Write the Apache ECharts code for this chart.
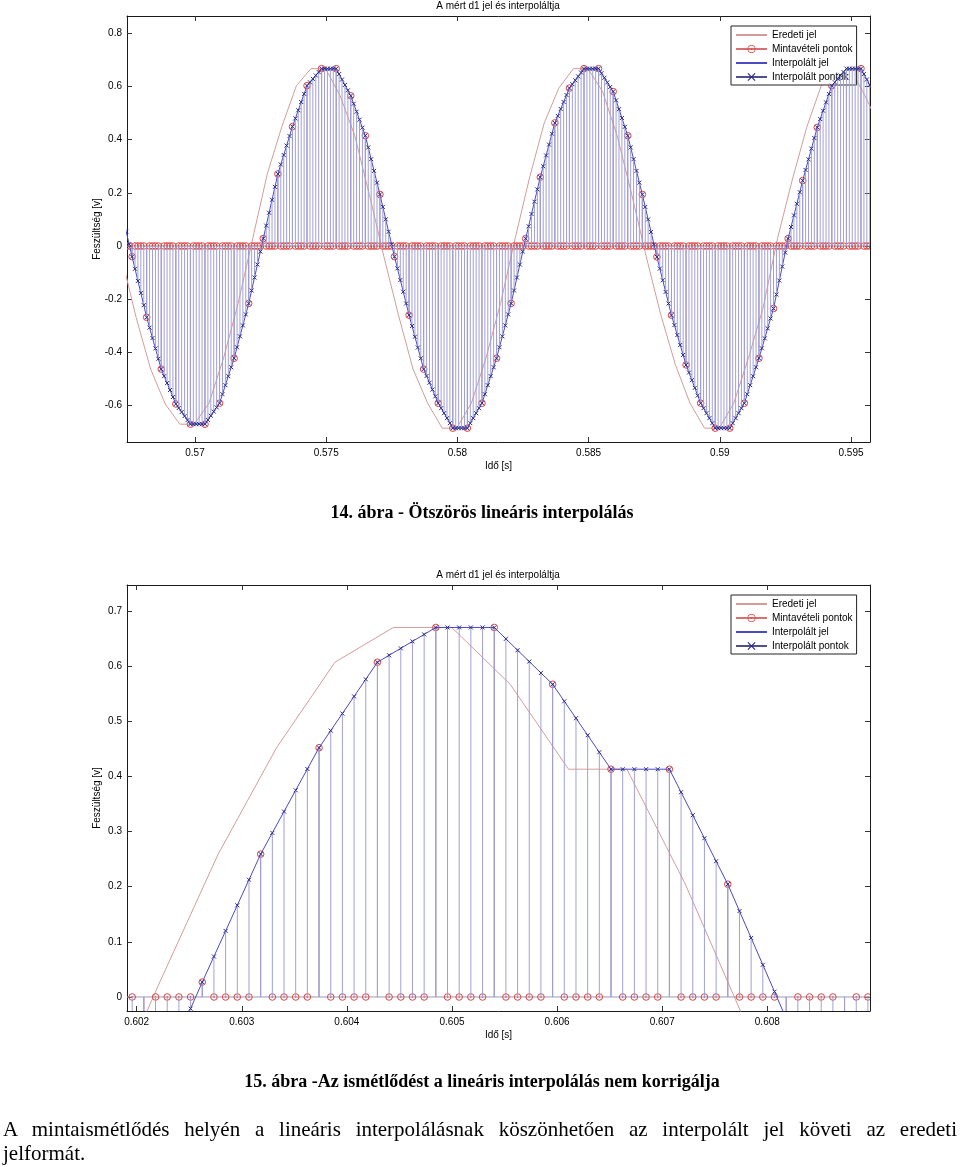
<!DOCTYPE html>
<html>
<head>
<meta charset="utf-8">
<script src="https://cdn.jsdelivr.net/npm/echarts@6/dist/echarts.min.js"></script>
<style>
html,body{margin:0;padding:0;background:#fff;}
#chart{position:absolute;left:0;top:0;width:960px;height:1167px;}
.cap{position:absolute;left:0;width:964px;text-align:center;font-family:"Liberation Serif","Times New Roman",serif;font-weight:bold;font-size:18px;line-height:22px;color:#000;white-space:nowrap;}
.para{position:absolute;left:3px;width:954px;font-family:"Liberation Serif","Times New Roman",serif;font-size:21px;line-height:24px;color:#000;white-space:nowrap;}
#p1{top:1117px;text-align:justify;text-align-last:justify;white-space:normal;}
#p2{top:1141px;}
</style>
</head>
<body>
<div id="chart"></div>
<div class="cap" style="top:501px">14. ábra - Ötszörös lineáris interpolálás</div>
<div class="cap" style="top:1070px">15. ábra -Az ismétlődést a lineáris interpolálás nem korrigálja</div>
<div class="para" id="p1">A mintaismétlődés helyén a lineáris interpolálásnak köszönhetően az interpolált jel követi az eredeti</div>
<div class="para" id="p2">jelformát.</div>
<script>
// ---------------- DATA ----------------
const SAMPLE_RATE = 1800;          // Hz, sampled signal
const UPSAMPLE = 5;                // fivefold interpolation
const ORIGINAL_DELAY = 0.000404;   // s, original signal leads the interpolated one

const chartTitle = 'A mért d1 jel és interpoláltja';
const xName = 'Idő [s]';
const yName = 'Feszültség [v]';
const legendNames = ['Eredeti jel', 'Mintavételi pontok', 'Interpolált jel', 'Interpolált pontok'];

// Figure 14
const c1FirstSampleTime = 0.5670474;
const c1Samples = [
  0.194, -0.040, -0.268, -0.463, -0.594, -0.670, -0.670, -0.591, -0.422, -0.216,
  0.028, 0.271, 0.449, 0.603, 0.667, 0.667, 0.565, 0.415, 0.194, -0.040,
  -0.260, -0.463, -0.591, -0.685, -0.685, -0.591, -0.422, -0.216,
  0.028, 0.259, 0.463, 0.594, 0.667, 0.667, 0.581, 0.415, 0.194, -0.041,
  -0.260, -0.447, -0.591, -0.685, -0.685, -0.591, -0.422, -0.235,
  0.028, 0.246, 0.446, 0.603, 0.667, 0.667, 0.565, 0.450
];
const c1XRange = [0.567409, 0.595724];
const c1YRange = [-0.737, 0.865];
const c1XTicks = [0.57, 0.575, 0.58, 0.585, 0.59, 0.595];
const c1XTickLabels = ['0.57', '0.575', '0.58', '0.585', '0.59', '0.595'];
const c1YTicks = [-0.6, -0.4, -0.2, 0, 0.2, 0.4, 0.6, 0.8];
const c1YTickLabels = ['-0.6', '-0.4', '-0.2', '0', '0.2', '0.4', '0.6', '0.8'];

// Figure 15
const c2FirstSampleTime = 0.6015129;
const c2Samples = [
  -0.420, -0.213, 0.027, 0.259, 0.452, 0.607, 0.670, 0.670, 0.567,
  0.413, 0.413, 0.2045, -0.039, -0.270, -0.460
];
const c2XRange = [0.601908, 0.608977];
const c2YRange = [-0.0254, 0.747];
const c2XTicks = [0.602, 0.603, 0.604, 0.605, 0.606, 0.607, 0.608];
const c2XTickLabels = ['0.602', '0.603', '0.604', '0.605', '0.606', '0.607', '0.608'];
const c2YTicks = [0, 0.1, 0.2, 0.3, 0.4, 0.5, 0.6, 0.7];
const c2YTickLabels = ['0', '0.1', '0.2', '0.3', '0.4', '0.5', '0.6', '0.7'];

// ---------------- DERIVED (the chart's own processing) ----------------
function derive(samples, t0) {
  const T = 1 / SAMPLE_RATE;
  const original = samples.map((v, i) => [t0 + i * T - ORIGINAL_DELAY, v]);
  const stuffed = [];   // zero-inserted sample sequence
  const interp = [];    // linear interpolation
  for (let i = 0; i < samples.length - 1; i++) {
    for (let j = 0; j < UPSAMPLE; j++) {
      const t = t0 + (i + j / UPSAMPLE) * T;
      stuffed.push([t, j === 0 ? samples[i] : 0]);
      interp.push([t, samples[i] + (j / UPSAMPLE) * (samples[i + 1] - samples[i])]);
    }
  }
  const tl = t0 + (samples.length - 1) * T;
  stuffed.push([tl, samples[samples.length - 1]]);
  interp.push([tl, samples[samples.length - 1]]);
  return { original, stuffed, interp };
}
const d1 = derive(c1Samples, c1FirstSampleTime);
const d2 = derive(c2Samples, c2FirstSampleTime);

// ---------------- STYLE ----------------
const FONT = '"Liberation Sans", Arial, Helvetica, sans-serif';
const COL_ORIG = '#d39c9c';
const COL_SAMPLE = '#dd4444';
const COL_SAMPLE_STEM = '#8e7ab4';
const COL_STEM = '#a0a0d8';
const COL_ILINE = '#4a4ac4';
const COL_X = '#2a2a8a';
const COL_AXIS = '#1a1a1a';

function labelFor(v, ticks, labels) {
  const i = ticks.findIndex(t => Math.abs(t - v) < 1e-9);
  return i >= 0 ? labels[i] : '';
}

function xAxisCfg(gridIndex, range, ticks, labels, position, main) {
  return {
    type: 'value', gridIndex, position, min: range[0], max: range[1],
    axisLine: { show: true, onZero: false, lineStyle: { color: COL_AXIS, width: 1 } },
    axisTick: { show: true, inside: true, length: 5, customValues: ticks, lineStyle: { color: '#333' } },
    axisLabel: { show: main, customValues: ticks, formatter: v => labelFor(v, ticks, labels),
      margin: 6, fontSize: 10, color: '#000', fontFamily: FONT },
    splitLine: { show: false },
    name: main ? xName : '', nameLocation: 'middle', nameGap: 19, nameMoveOverlap: false,
    nameTextStyle: { fontSize: 10, color: '#000', fontFamily: FONT }
  };
}
function yAxisCfg(gridIndex, range, ticks, labels, position, main) {
  return {
    type: 'value', gridIndex, position, min: range[0], max: range[1],
    axisLine: { show: true, onZero: false, lineStyle: { color: COL_AXIS, width: 1 } },
    axisTick: { show: true, inside: true, length: 5, customValues: ticks, lineStyle: { color: '#333' } },
    axisLabel: { show: main, customValues: ticks, formatter: v => labelFor(v, ticks, labels),
      margin: 5, fontSize: 10, color: '#000', fontFamily: FONT },
    splitLine: { show: false },
    name: main ? yName : '', nameLocation: 'middle', nameGap: 25, nameMoveOverlap: false,
    nameTextStyle: { fontSize: 10, color: '#000', fontFamily: FONT }
  };
}

function stemRender(color) {
  return function (params, api) {
    const x = api.value(0), y = api.value(1);
    const p0 = api.coord([x, 0]);
    const p1 = api.coord([x, y]);
    return { type: 'line', shape: { x1: p0[0], y1: p0[1], x2: p1[0], y2: p1[1] },
      style: { stroke: color, lineWidth: 1 } };
  };
}
function circleRender(params, api) {
  const p = api.coord([api.value(0), api.value(1)]);
  return { type: 'group', children: [
    { type: 'circle', shape: { cx: p[0], cy: p[1], r: 3.3 }, style: { fill: null, stroke: COL_SAMPLE, lineWidth: 1 } },
    { type: 'circle', shape: { cx: p[0], cy: p[1], r: 0.8 }, style: { fill: COL_SAMPLE } }
  ] };
}
function xMarkRender(params, api) {
  const p = api.coord([api.value(0), api.value(1)]);
  const h = 2;
  return { type: 'group', children: [
    { type: 'line', shape: { x1: p[0] - h, y1: p[1] - h, x2: p[0] + h, y2: p[1] + h }, style: { stroke: COL_X, lineWidth: 1 } },
    { type: 'line', shape: { x1: p[0] - h, y1: p[1] + h, x2: p[0] + h, y2: p[1] - h }, style: { stroke: COL_X, lineWidth: 1 } }
  ] };
}

const RING_DOT = 'path://M10,0A10,10 0 1,1 9.99,0Z M10,1.8A8.2,8.2 0 1,0 10.01,1.8Z M10,8A2,2 0 1,1 9.99,8Z';
const X_SHAPE = 'path://M0,1L1,0L5,4L9,0L10,1L6,5L10,9L9,10L5,6L1,10L0,9L4,5Z';

function seriesFor(d, xi, yi, xRange) {
  return [
    { name: legendNames[0], type: 'line', xAxisIndex: xi, yAxisIndex: yi, data: d.original,
      symbol: 'none', lineStyle: { color: COL_ORIG, width: 1 }, itemStyle: { color: COL_ORIG },
      silent: true, animation: false, z: 2 },
    { name: '_baseline', type: 'line', xAxisIndex: xi, yAxisIndex: yi, data: [[xRange[0], 0], [xRange[1], 0]],
      symbol: 'none', lineStyle: { color: '#9a9ab8', width: 1 }, silent: true, animation: false, z: 2 },
    { name: '_sampleStems', type: 'custom', xAxisIndex: xi, yAxisIndex: yi, data: d.stuffed,
      renderItem: stemRender(COL_SAMPLE_STEM), clip: true, silent: true, animation: false, z: 3 },
    { name: '_sampleMarks', type: 'custom', xAxisIndex: xi, yAxisIndex: yi, data: d.stuffed,
      renderItem: circleRender, clip: true, silent: true, animation: false, z: 3 },
    { name: legendNames[2], type: 'line', xAxisIndex: xi, yAxisIndex: yi, data: d.interp,
      symbol: 'none', lineStyle: { color: COL_ILINE, width: 1 }, itemStyle: { color: COL_ILINE },
      silent: true, animation: false, z: 4 },
    { name: '_interpStems', type: 'custom', xAxisIndex: xi, yAxisIndex: yi, data: d.interp,
      renderItem: stemRender(COL_STEM), clip: true, silent: true, animation: false, z: 5 },
    { name: '_interpMarks', type: 'custom', xAxisIndex: xi, yAxisIndex: yi, data: d.interp,
      renderItem: xMarkRender, clip: true, silent: true, animation: false, z: 6 }
  ];
}
// legend-only entries for the stem plots
const legendSeries = [
  { name: legendNames[1], type: 'line', data: [], xAxisIndex: 0, yAxisIndex: 0,
    symbol: RING_DOT, lineStyle: { color: '#d87070', width: 1 }, itemStyle: { color: COL_SAMPLE } },
  { name: legendNames[3], type: 'line', data: [], xAxisIndex: 0, yAxisIndex: 0,
    symbol: X_SHAPE, lineStyle: { color: '#50508a', width: 1 }, itemStyle: { color: COL_X } }
];

function legendCfg(top) {
  return {
    data: [
      { name: legendNames[0], itemStyle: { opacity: 0 } },
      { name: legendNames[1] },
      { name: legendNames[2], itemStyle: { opacity: 0 } },
      { name: legendNames[3] }
    ],
    orient: 'vertical', left: 731, top,
    padding: [4, 4, 3, 4], itemGap: 4, itemWidth: 31, itemHeight: 10,
    backgroundColor: '#fff', borderColor: '#222', borderWidth: 1, borderRadius: 0,
    textStyle: { fontSize: 10, color: '#000', fontFamily: FONT },
    selectedMode: false
  };
}

const option = {
  animation: false,
  backgroundColor: '#fff',
  grid: [
    { left: 127, top: 16, width: 743, height: 426 },
    { left: 127, top: 585, width: 743, height: 426 }
  ],
  xAxis: [
    xAxisCfg(0, c1XRange, c1XTicks, c1XTickLabels, 'bottom', true),
    xAxisCfg(0, c1XRange, c1XTicks, c1XTickLabels, 'top', false),
    xAxisCfg(1, c2XRange, c2XTicks, c2XTickLabels, 'bottom', true),
    xAxisCfg(1, c2XRange, c2XTicks, c2XTickLabels, 'top', false)
  ],
  yAxis: [
    yAxisCfg(0, c1YRange, c1YTicks, c1YTickLabels, 'left', true),
    yAxisCfg(0, c1YRange, c1YTicks, c1YTickLabels, 'right', false),
    yAxisCfg(1, c2YRange, c2YTicks, c2YTickLabels, 'left', true),
    yAxisCfg(1, c2YRange, c2YTicks, c2YTickLabels, 'right', false)
  ],
  legend: [legendCfg(26), legendCfg(595)],
  graphic: [
    { type: 'text', x: 498, y: 6, style: { text: chartTitle, textAlign: 'center', textVerticalAlign: 'middle', fontSize: 10, fontFamily: FONT, fill: '#000' } },
    { type: 'text', x: 498, y: 575, style: { text: chartTitle, textAlign: 'center', textVerticalAlign: 'middle', fontSize: 10, fontFamily: FONT, fill: '#000' } }
  ],
  series: [].concat(
    seriesFor(d1, 0, 0, c1XRange),
    seriesFor(d2, 2, 2, c2XRange),
    legendSeries
  )
};

const chart = echarts.init(document.getElementById('chart'));
chart.setOption(option);
</script>
</body>
</html>
